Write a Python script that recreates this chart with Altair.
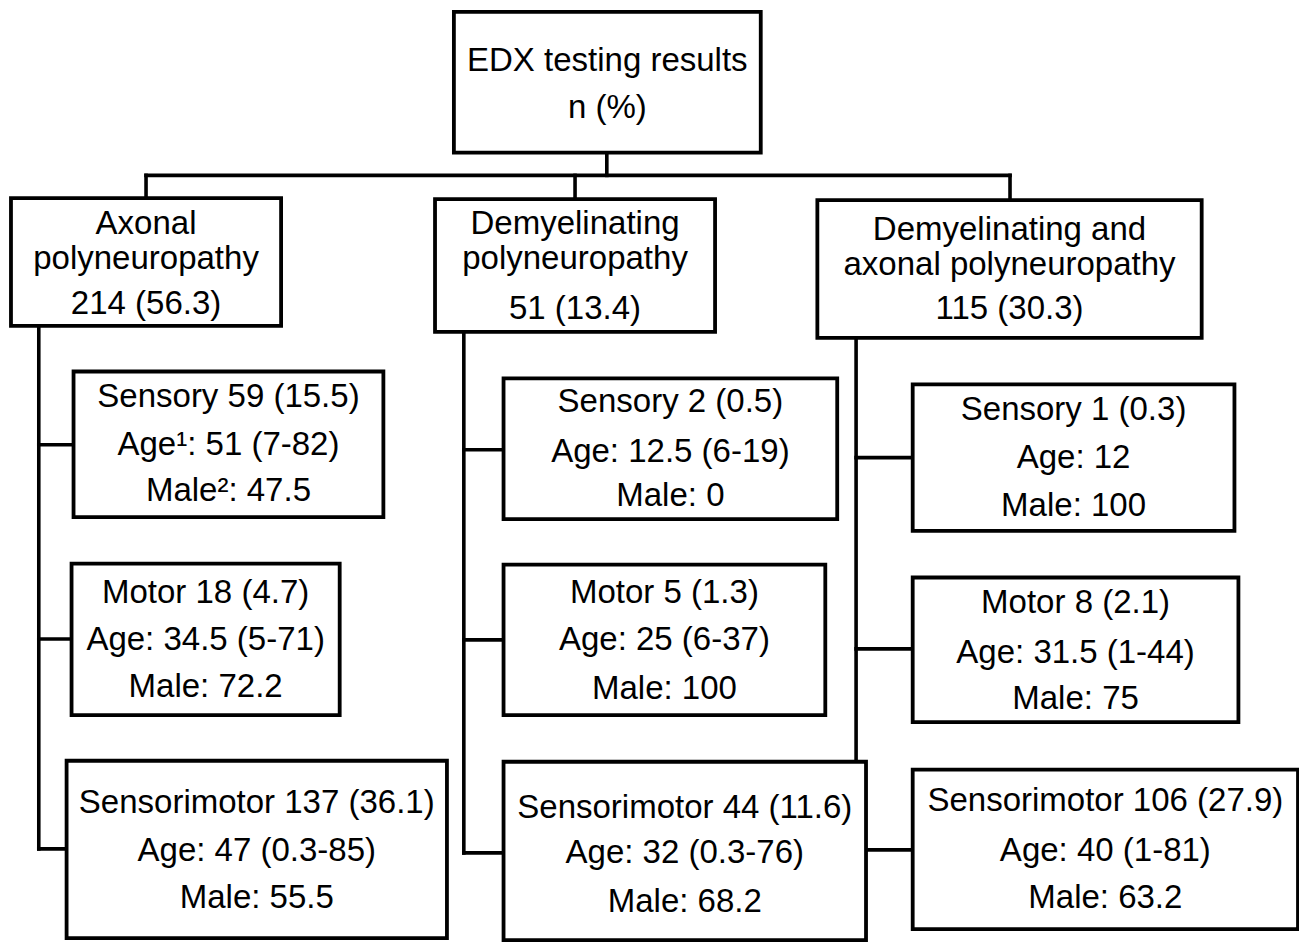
import altair as alt
import pandas as pd

# ---------------- content ----------------
box_text = [
    ["EDX testing results", "n (%)"],
    ["Axonal", "polyneuropathy", "214 (56.3)"],
    ["Demyelinating", "polyneuropathy", "51 (13.4)"],
    ["Demyelinating and", "axonal polyneuropathy", "115 (30.3)"],
    ["Sensory 59 (15.5)", "Age\u00b9: 51 (7-82)", "Male\u00b2: 47.5"],
    ["Motor 18 (4.7)", "Age: 34.5 (5-71)", "Male: 72.2"],
    ["Sensorimotor 137 (36.1)", "Age: 47 (0.3-85)", "Male: 55.5"],
    ["Sensory 2 (0.5)", "Age: 12.5 (6-19)", "Male: 0"],
    ["Motor 5 (1.3)", "Age: 25 (6-37)", "Male: 100"],
    ["Sensorimotor 44 (11.6)", "Age: 32 (0.3-76)", "Male: 68.2"],
    ["Sensory 1 (0.3)", "Age: 12", "Male: 100"],
    ["Motor 8 (2.1)", "Age: 31.5 (1-44)", "Male: 75"],
    ["Sensorimotor 106 (27.9)", "Age: 40 (1-81)", "Male: 63.2"],
]

# ---------------- layout (diagram coordinates) ----------------
box_x0 = [455, 9, 436, 821, 72, 70, 65, 505, 505, 505, 917, 917, 917]
box_x1 = [764, 281, 718, 1208, 384, 340, 448, 841, 829, 870, 1241, 1245, 1305]
box_y0 = [10, 198, 199, 200, 373, 567, 766, 380, 568, 767, 386, 581, 775]
box_y1 = [152, 327, 333, 339, 520, 720, 945, 522, 720, 947, 534, 727, 936]
line_y = [
    [57, 105],
    [222, 257, 303],
    [222, 257, 308],
    [228, 263, 308],
    [397, 445, 492],
    [595, 642, 690],
    [807, 855, 903],
    [402, 452, 497],
    [595, 642, 692],
    [812, 857, 907],
    [410, 458, 507],
    [605, 655, 702],
    [805, 855, 903],
]

seg_x0 = [609, 145, 145, 577, 1015, 37, 37, 37, 37, 465, 465, 465, 465, 860, 860, 860, 870]
seg_x1 = [609, 1015, 145, 577, 1015, 37, 72, 70, 65, 465, 505, 505, 505, 860, 917, 917, 917]
seg_y0 = [152, 175, 175, 175, 175, 327, 447, 643, 855, 333, 452, 644, 859, 339, 460, 653, 856]
seg_y1 = [175, 175, 198, 199, 200, 855, 447, 643, 855, 859, 452, 644, 859, 767, 460, 653, 856]

boxes = pd.DataFrame({"x0": box_x0, "x1": box_x1, "y0": box_y0, "y1": box_y1})
segs = pd.DataFrame({"x0": seg_x0, "x1": seg_x1, "y0": seg_y0, "y1": seg_y1})

rows = []
for i, lines in enumerate(box_text):
    cx = (box_x0[i] + box_x1[i]) / 2
    for j, t in enumerate(lines):
        rows.append({"x": cx, "y": line_y[i][j], "t": t})
texts = pd.DataFrame(rows)

W, H = 1291, 935
xs = alt.Scale(domain=[6, 1306], nice=False, zero=False)
ys = alt.Scale(domain=[6, 950], nice=False, zero=False, reverse=True)

rules = alt.Chart(segs).mark_rule(color="black", strokeWidth=3.6, strokeCap="square").encode(
    x=alt.X("x0:Q", scale=xs, axis=None),
    x2="x1:Q",
    y=alt.Y("y0:Q", scale=ys, axis=None),
    y2="y1:Q",
)

rects = alt.Chart(boxes).mark_rect(fill="white", stroke="black", strokeWidth=3.8).encode(
    x=alt.X("x0:Q", scale=xs, axis=None),
    x2="x1:Q",
    y=alt.Y("y0:Q", scale=ys, axis=None),
    y2="y1:Q",
)

labels = alt.Chart(texts).mark_text(
    font="Liberation Sans", fontSize=33, align="center", baseline="middle", dy=2, color="black"
).encode(
    x=alt.X("x:Q", scale=xs, axis=None),
    y=alt.Y("y:Q", scale=ys, axis=None),
    text="t:N",
)

chart = alt.layer(rules, rects, labels).properties(
    width=W, height=H, autosize=alt.AutoSizeParams(type="none"), padding=0, background="white"
).configure_view(stroke=None)

chart.save("out.html", embed_options={"renderer": "svg", "actions": False})
